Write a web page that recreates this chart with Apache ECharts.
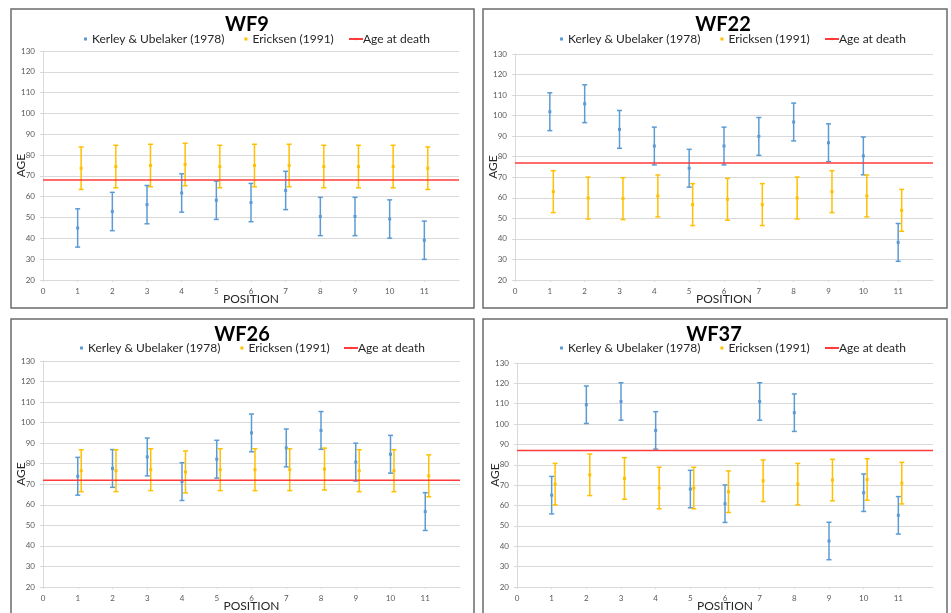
<!DOCTYPE html>
<html>
<head>
<meta charset="utf-8">
<script src="https://cdn.jsdelivr.net/npm/echarts@6/dist/echarts.min.js"></script>
<style>
html, body { margin: 0; padding: 0; background: #ffffff; }
#main { width: 951px; height: 613px; }
</style>
</head>
<body>
<div id="main"></div>
<script>
// positions along the x axis
var positions = [1, 2, 3, 4, 5, 6, 7, 8, 9, 10, 11]
var xTicks = [0, 1, 2, 3, 4, 5, 6, 7, 8, 9, 10, 11]

// estimated ages (centre of each bar)
var wf9Kerley = [45.0, 52.9, 56.2, 61.8, 58.3, 57.2, 63.0, 50.5, 50.5, 49.3, 39.1]
var wf9Ericksen = [73.7, 74.5, 75.0, 75.5, 74.5, 75.0, 75.0, 74.5, 74.5, 74.5, 73.7]
var wf22Kerley = [101.9, 105.8, 93.3, 85.2, 74.4, 85.2, 89.9, 96.9, 86.8, 80.4, 38.3]
var wf22Ericksen = [63.0, 59.9, 59.6, 60.9, 56.7, 59.3, 56.7, 59.9, 63.0, 60.9, 53.9]
var wf26Kerley = [73.9, 77.7, 83.3, 71.3, 82.2, 95.0, 87.7, 96.2, 80.8, 84.6, 56.7]
var wf26Ericksen = [76.6, 76.6, 77.1, 76.0, 77.1, 77.1, 77.1, 77.4, 76.6, 76.6, 74.1]
var wf37Kerley = [65.1, 109.5, 111.1, 96.9, 68.1, 60.9, 111.1, 105.6, 42.6, 66.3, 55.2]
var wf37Ericksen = [70.5, 75.1, 73.3, 68.6, 68.6, 66.8, 72.2, 70.5, 72.5, 72.8, 71.0]

// error bar half widths
var kerleyErr = 9.2
var ericksenErr = 10.2

// age at death for each individual
var ageAtDeath = { WF9: 68, WF22: 77, WF26: 72, WF37: 87 }

var KERLEY = 'Kerley & Ubelaker (1978)'
var ERICKSEN = 'Ericksen (1991)'
var AGE = 'Age at death'

var panels = [
  { name: 'WF9', kerley: wf9Kerley, ericksen: wf9Ericksen,
    box: [11, 9, 463, 299], grid: [43, 51, 416, 229], titleX: 247, titleY: 15, legendX: 84, lineX: 348, legendY: 33 },
  { name: 'WF22', kerley: wf22Kerley, ericksen: wf22Ericksen,
    box: [483, 9, 464, 299], grid: [515, 54, 418, 226], titleX: 723, titleY: 15, legendX: 560, lineX: 824, legendY: 33 },
  { name: 'WF26', kerley: wf26Kerley, ericksen: wf26Ericksen,
    box: [11, 319, 463, 300], grid: [43, 361, 417, 229], titleX: 242, titleY: 325, legendX: 80, lineX: 343, legendY: 342 },
  { name: 'WF37', kerley: wf37Kerley, ericksen: wf37Ericksen,
    box: [483, 319, 464, 300], grid: [517, 363, 416, 227], titleX: 714, titleY: 325, legendX: 560, lineX: 824, legendY: 342 }
]

var FONT = 'Lato'
var BLUE = '#5B9BD5'
var ORANGE = '#FFC000'
var RED = '#FF3B3B'

function errorBar(offset) {
  return function (params, api) {
    var x = api.value(0) + offset
    var c = api.value(1)
    var e = api.value(2)
    var top = api.coord([x, c + e])
    var bot = api.coord([x, c - e])
    var mid = api.coord([x, c])
    var color = api.visual('color')
    var st = { stroke: color, lineWidth: 1.5 }
    return {
      type: 'group',
      children: [
        { type: 'line', shape: { x1: top[0], y1: top[1], x2: bot[0], y2: bot[1] }, style: st },
        { type: 'line', shape: { x1: top[0] - 2.5, y1: top[1], x2: top[0] + 2.5, y2: top[1] }, style: st },
        { type: 'line', shape: { x1: bot[0] - 2.5, y1: bot[1], x2: bot[0] + 2.5, y2: bot[1] }, style: st },
        { type: 'rect', shape: { x: mid[0] - 1.5, y: mid[1] - 1.5, width: 3, height: 3 }, style: { fill: color } }
      ]
    }
  }
}

var titles = [], legends = [], grids = [], xAxes = [], yAxes = [], series = [], graphics = []

panels.forEach(function (p, i) {
  graphics.push({
    type: 'rect',
    shape: { x: p.box[0], y: p.box[1], width: p.box[2], height: p.box[3] },
    style: { fill: 'none', stroke: '#6b6b6b', lineWidth: 1.5 },
    silent: true
  })
  titles.push({
    text: p.name,
    left: p.titleX,
    top: p.titleY,
    textAlign: 'center',
    padding: 0,
    textStyle: { fontFamily: FONT, fontSize: 20, fontWeight: 'bold', color: '#000' }
  })
  legends.push({
    data: [{ name: KERLEY, icon: 'rect' }, { name: ERICKSEN, icon: 'rect' }],
    left: p.legendX,
    top: p.legendY,
    padding: 0,
    itemWidth: 3,
    itemHeight: 3,
    itemGap: 20,
    textStyle: { fontFamily: FONT, fontSize: 12, color: '#262626' }
  })
  legends.push({
    data: [AGE],
    left: p.lineX,
    top: p.legendY,
    padding: 0,
    itemWidth: 14,
    itemHeight: 3,
    textStyle: { fontFamily: FONT, fontSize: 12, color: '#262626', padding: [0, 0, 0, -5] }
  })
  grids.push({ left: p.grid[0], top: p.grid[1], width: p.grid[2], height: p.grid[3] })
  xAxes.push({
    gridIndex: i,
    type: 'value',
    min: 0,
    max: 12,
    interval: 1,
    name: 'POSITION',
    nameLocation: 'middle',
    nameGap: 13,
    nameMoveOverlap: false,
    nameTextStyle: { fontFamily: FONT, fontSize: 12, color: '#262626' },
    axisLine: { show: true, lineStyle: { color: '#d9d9d9', width: 1 } },
    axisTick: { show: true, length: 2, lineStyle: { color: '#d9d9d9' } },
    axisLabel: {
      fontFamily: FONT, fontSize: 8, color: '#595959', margin: 7,
      showMaxLabel: false,
      formatter: function (v) { return xTicks.indexOf(v) >= 0 ? String(v) : '' }
    },
    splitLine: { show: false }
  })
  yAxes.push({
    gridIndex: i,
    type: 'value',
    min: 20,
    max: 130,
    interval: 10,
    name: 'AGE',
    nameLocation: 'middle',
    nameGap: 16,
    nameMoveOverlap: false,
    nameTextStyle: { fontFamily: FONT, fontSize: 12, color: '#262626' },
    axisLine: { show: true, lineStyle: { color: '#d9d9d9', width: 1 } },
    axisTick: { show: true, length: 3, lineStyle: { color: '#d9d9d9' } },
    axisLabel: { fontFamily: FONT, fontSize: 8, color: '#595959', margin: 8 },
    splitLine: { show: true, lineStyle: { color: '#d9d9d9', width: 1 } }
  })
  series.push({
    name: KERLEY,
    type: 'custom',
    xAxisIndex: i,
    yAxisIndex: i,
    itemStyle: { color: BLUE },
    renderItem: errorBar(0),
    encode: { x: 0, y: 1 },
    data: positions.map(function (x, k) { return [x, p.kerley[k], kerleyErr] })
  })
  series.push({
    name: ERICKSEN,
    type: 'custom',
    xAxisIndex: i,
    yAxisIndex: i,
    itemStyle: { color: ORANGE },
    renderItem: errorBar(0.1),
    encode: { x: 0, y: 1 },
    data: positions.map(function (x, k) { return [x, p.ericksen[k], ericksenErr] })
  })
  series.push({
    name: AGE,
    type: 'line',
    xAxisIndex: i,
    yAxisIndex: i,
    symbol: 'none',
    itemStyle: { color: RED },
    lineStyle: { color: RED, width: 1.5 },
    data: [[0, ageAtDeath[p.name]], [12, ageAtDeath[p.name]]],
    z: 5
  })
})

var chart = echarts.init(document.getElementById('main'))
chart.setOption({
  animation: false,
  backgroundColor: '#ffffff',
  title: titles,
  legend: legends,
  grid: grids,
  xAxis: xAxes,
  yAxis: yAxes,
  series: series,
  graphic: graphics
})
</script>
</body>
</html>
